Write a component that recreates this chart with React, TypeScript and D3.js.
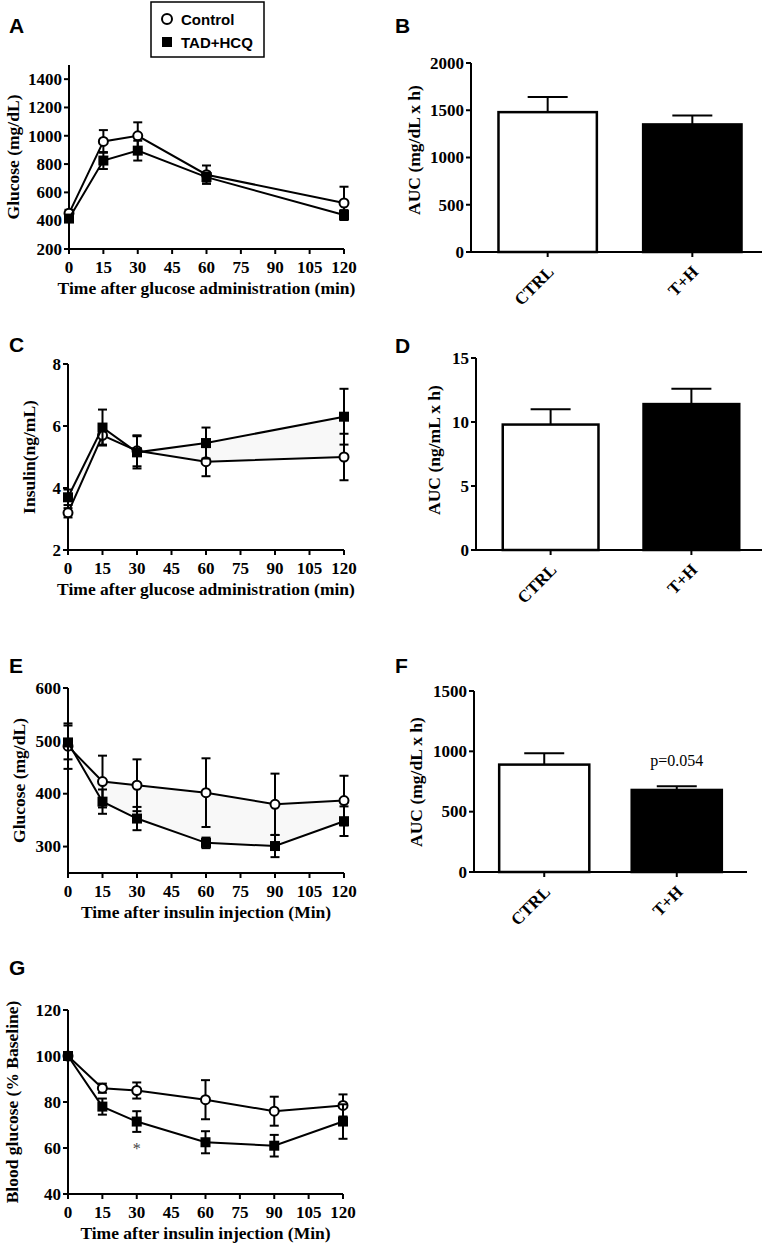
import React from "react";
import * as d3 from "d3";

// ---------- DATA ----------
const ogttTimes = [0, 15, 30, 60, 120];
const ogttGlucoseCtrl = [452, 960, 1000, 725, 525];
const ogttGlucoseCtrlErr = [25, 80, 95, 65, 115];
const ogttGlucoseTad = [415, 825, 895, 708, 440];
const ogttGlucoseTadErr = [20, 60, 70, 32, 35];

const insulinCtrl = [3.2, 5.7, 5.2, 4.85, 5.0];
const insulinCtrlErr = [0.15, 0.3, 0.5, 0.47, 0.75];
const insulinTad = [3.7, 5.95, 5.15, 5.45, 6.3];
const insulinTadErr = [0.25, 0.58, 0.52, 0.5, 0.9];

const ittTimes = [0, 15, 30, 60, 90, 120];
const ittGlucoseCtrl = [490, 423, 416, 402, 380, 387];
const ittGlucoseCtrlErr = [43, 49, 49, 65, 58, 47];
const ittGlucoseTad = [497, 385, 353, 307, 301, 348];
const ittGlucoseTadErr = [32, 23, 22, 10, 21, 28];

const pctCtrl = [100, 86, 85, 81, 76, 78.5];
const pctCtrlErr = [0.5, 2, 3.5, 8.5, 6.3, 4.8];
const pctTad = [100, 78, 71.5, 62.5, 61, 71.5];
const pctTadErr = [0.5, 3.5, 4.5, 4.8, 4.7, 7.5];

const groups = ["CTRL", "T+H"];
const ogttAuc = [1480, 1350];
const ogttAucErr = [160, 95];
const insulinAuc = [9.8, 11.4];
const insulinAucErr = [1.2, 1.2];
const ittAuc = [890, 680];
const ittAucErr = [95, 30];

const timeTicks = [0, 15, 30, 45, 60, 75, 90, 105, 120];
const legendLabels = ["Control", "TAD+HCQ"];

const SERIF = "'Liberation Serif', 'Times New Roman', serif";
const SANS = "'Liberation Sans', Arial, sans-serif";
const TICK_FS = 17;
const TITLE_FS = 17.5;

type LineProps = {
  xRange: [number, number];
  yRange: [number, number];
  yDomain: [number, number];
  yTicks: number[];
  times: number[];
  ctrl: number[];
  ctrlErr: number[];
  tad: number[];
  tadErr: number[];
  yTitle: string;
  yTitleX: number;
  xTitle: string;
  shade?: boolean;
  children?: (x: any, y: any) => React.ReactNode;
};

function LinePanel(p: LineProps) {
  const x = d3.scaleLinear().domain([0, 120]).range(p.xRange);
  const y = d3.scaleLinear().domain(p.yDomain).range(p.yRange);
  const axisY = p.yRange[0];
  const axisX = p.xRange[0];
  const line = d3
    .line<number>()
    .x((_, i) => x(p.times[i]))
    .y((d) => y(d));
  const area = d3
    .area<number>()
    .x((_, i) => x(p.times[i]))
    .y0((d) => y(d))
    .y1((_, i) => y(p.tad[i]));
  const cap = 4.5;
  const errBars = (vals: number[], errs: number[]) =>
    vals.map((v, i) => {
      const cx = x(p.times[i]);
      const y1 = y(v + errs[i]);
      const y2 = y(v - errs[i]);
      return (
        <g key={i} stroke="#000" strokeWidth={2}>
          <line x1={cx} x2={cx} y1={y1} y2={y2} />
          <line x1={cx - cap} x2={cx + cap} y1={y1} y2={y1} />
          <line x1={cx - cap} x2={cx + cap} y1={y2} y2={y2} />
        </g>
      );
    });
  const midY = (p.yRange[0] + p.yRange[1]) / 2;
  const midX = (p.xRange[0] + p.xRange[1]) / 2;
  return (
    <g>
      {p.shade && <path d={area(p.ctrl) || ""} fill="#f8f8f8" stroke="none" />}
      <line x1={axisX} x2={axisX} y1={axisY} y2={p.yRange[1]} stroke="#000" strokeWidth={2} />
      <line x1={axisX} x2={p.xRange[1]} y1={axisY} y2={axisY} stroke="#000" strokeWidth={2} />
      {p.yTicks.map((t) => (
        <g key={"y" + t}>
          <line x1={axisX - 5} x2={axisX} y1={y(t)} y2={y(t)} stroke="#000" strokeWidth={2} />
          <text
            x={axisX - 7}
            y={y(t)}
            dy="0.34em"
            textAnchor="end"
            fontFamily={SERIF}
            fontWeight="bold"
            fontSize={TICK_FS}
          >
            {t}
          </text>
        </g>
      ))}
      {timeTicks.map((t) => (
        <g key={"x" + t}>
          <line x1={x(t)} x2={x(t)} y1={axisY} y2={axisY + 5} stroke="#000" strokeWidth={2} />
          <text
            x={x(t)}
            y={axisY + 24}
            textAnchor="middle"
            fontFamily={SERIF}
            fontWeight="bold"
            fontSize={TICK_FS}
          >
            {t}
          </text>
        </g>
      ))}
      <text
        x={midX}
        y={axisY + 45}
        textAnchor="middle"
        fontFamily={SERIF}
        fontWeight="bold"
        fontSize={TITLE_FS}
      >
        {p.xTitle}
      </text>
      <text
        transform={`translate(${p.yTitleX},${midY}) rotate(-90)`}
        textAnchor="middle"
        dy="0.35em"
        fontFamily={SERIF}
        fontWeight="bold"
        fontSize={TITLE_FS}
      >
        {p.yTitle}
      </text>
      {errBars(p.ctrl, p.ctrlErr)}
      <path d={line(p.ctrl) || ""} fill="none" stroke="#000" strokeWidth={2} />
      {p.ctrl.map((v, i) => (
        <circle key={"c" + i} cx={x(p.times[i])} cy={y(v)} r={4.5} fill="#fff" stroke="#000" strokeWidth={2} />
      ))}
      {errBars(p.tad, p.tadErr)}
      <path d={line(p.tad) || ""} fill="none" stroke="#000" strokeWidth={2} />
      {p.tad.map((v, i) => (
        <rect key={"s" + i} x={x(p.times[i]) - 5} y={y(v) - 5} width={10} height={10} fill="#000" />
      ))}
      {p.children && p.children(x, y)}
    </g>
  );
}

type BarProps = {
  axisX: number;
  axisEnd: number;
  bandRange: [number, number];
  yRange: [number, number];
  yDomain: [number, number];
  yTicks: number[];
  values: number[];
  errs: number[];
  yTitle: string;
  yTitleX: number;
  yTitleY: number;
  note?: string;
};

function BarPanel(p: BarProps) {
  const x = d3.scaleBand<string>().domain(groups).range(p.bandRange).paddingInner(0.32).paddingOuter(0.19);
  const y = d3.scaleLinear().domain(p.yDomain).range(p.yRange);
  const axisY = p.yRange[0];
  const bw = x.bandwidth();
  const cap = 20;
  return (
    <g>
      {groups.map((g, i) => {
        const x0 = x(g) as number;
        const cx = x0 + bw / 2;
        const top = y(p.values[i]);
        const et = y(p.values[i] + p.errs[i]);
        return (
          <g key={g}>
            <line x1={cx} x2={cx} y1={top} y2={et} stroke="#000" strokeWidth={2} />
            <line x1={cx - cap} x2={cx + cap} y1={et} y2={et} stroke="#000" strokeWidth={2} />
            <rect
              x={x0}
              y={top}
              width={bw}
              height={axisY - top}
              fill={i === 0 ? "#fff" : "#000"}
              stroke="#000"
              strokeWidth={2.5}
            />
            {i === 1 && p.note && (
              <text x={cx} y={et - 20} textAnchor="middle" fontFamily={SERIF} fontSize={16}>
                {p.note}
              </text>
            )}
          </g>
        );
      })}
      <line x1={p.axisX} x2={p.axisX} y1={axisY} y2={p.yRange[1]} stroke="#000" strokeWidth={2} />
      <line x1={p.axisX} x2={p.axisEnd} y1={axisY} y2={axisY} stroke="#000" strokeWidth={2} />
      {p.yTicks.map((t) => (
        <g key={t}>
          <line x1={p.axisX - 5} x2={p.axisX} y1={y(t)} y2={y(t)} stroke="#000" strokeWidth={2} />
          <text
            x={p.axisX - 7}
            y={y(t)}
            dy="0.34em"
            textAnchor="end"
            fontFamily={SERIF}
            fontWeight="bold"
            fontSize={TICK_FS}
          >
            {t}
          </text>
        </g>
      ))}
      {groups.map((g) => {
        const cx = (x(g) as number) + bw / 2;
        return (
          <g key={"l" + g}>
            <line x1={cx} x2={cx} y1={axisY} y2={axisY + 5} stroke="#000" strokeWidth={2} />
            <text
              transform={`translate(${cx + 7},${axisY + 21}) rotate(-45)`}
              textAnchor="end"
              fontFamily={SERIF}
              fontWeight="bold"
              fontSize={TICK_FS}
            >
              {g}
            </text>
          </g>
        );
      })}
      <text
        transform={`translate(${p.yTitleX},${p.yTitleY}) rotate(-90)`}
        textAnchor="middle"
        dy="0.35em"
        fontFamily={SERIF}
        fontWeight="bold"
        fontSize={TITLE_FS}
      >
        {p.yTitle}
      </text>
    </g>
  );
}

function PanelLabel({ x, y, t }: { x: number; y: number; t: string }) {
  return (
    <text x={x} y={y} fontFamily={SANS} fontWeight="bold" fontSize={21}>
      {t}
    </text>
  );
}

export default function App() {
  return (
    <svg
      width={768}
      height={1246}
      style={{ position: "absolute", left: 0, top: 0, background: "#fff" }}
    >
      <rect width={768} height={1246} fill="#fff" />
      <g>
        <rect x={151} y={2} width={113} height={55} fill="#fff" stroke="#000" strokeWidth={1.5} />
        <circle cx={167} cy={19} r={5} fill="#fff" stroke="#000" strokeWidth={2} />
        <rect x={162} y={37} width={10} height={10} fill="#000" />
        <text x={181} y={25} fontFamily={SANS} fontWeight="bold" fontSize={15}>
          {legendLabels[0]}
        </text>
        <text x={181} y={48} fontFamily={SANS} fontWeight="bold" fontSize={15}>
          {legendLabels[1]}
        </text>
      </g>

      <PanelLabel x={9} y={33} t="A" />
      <PanelLabel x={395} y={33} t="B" />
      <PanelLabel x={9} y={352} t="C" />
      <PanelLabel x={395} y={353} t="D" />
      <PanelLabel x={9} y={673} t="E" />
      <PanelLabel x={395} y={673} t="F" />
      <PanelLabel x={9} y={975} t="G" />

      <LinePanel
        xRange={[69, 344]}
        yRange={[249, 65]}
        yDomain={[200, 1500]}
        yTicks={[200, 400, 600, 800, 1000, 1200, 1400]}
        times={ogttTimes}
        ctrl={ogttGlucoseCtrl}
        ctrlErr={ogttGlucoseCtrlErr}
        tad={ogttGlucoseTad}
        tadErr={ogttGlucoseTadErr}
        yTitle="Glucose (mg/dL)"
        yTitleX={13}
        xTitle="Time after glucose administration (min)"
      />
      <BarPanel
        axisX={471}
        axisEnd={762}
        bandRange={[471, 769]}
        yRange={[252, 63]}
        yDomain={[0, 2000]}
        yTicks={[0, 500, 1000, 1500, 2000]}
        values={ogttAuc}
        errs={ogttAucErr}
        yTitle="AUC (mg/dL x h)"
        yTitleX={414}
        yTitleY={150}
      />

      <LinePanel
        xRange={[68, 344]}
        yRange={[550, 364]}
        yDomain={[2, 8]}
        yTicks={[2, 4, 6, 8]}
        times={ogttTimes}
        ctrl={insulinCtrl}
        ctrlErr={insulinCtrlErr}
        tad={insulinTad}
        tadErr={insulinTadErr}
        yTitle="Insulin(ng/mL)"
        yTitleX={29}
        xTitle="Time after glucose administration (min)"
        shade
      />
      <BarPanel
        axisX={476}
        axisEnd={762}
        bandRange={[476, 766]}
        yRange={[550, 358]}
        yDomain={[0, 15]}
        yTicks={[0, 5, 10, 15]}
        values={insulinAuc}
        errs={insulinAucErr}
        yTitle="AUC (ng/mL x h)"
        yTitleX={434}
        yTitleY={450}
      />

      <LinePanel
        xRange={[68, 344]}
        yRange={[873, 688]}
        yDomain={[250, 600]}
        yTicks={[300, 400, 500, 600]}
        times={ittTimes}
        ctrl={ittGlucoseCtrl}
        ctrlErr={ittGlucoseCtrlErr}
        tad={ittGlucoseTad}
        tadErr={ittGlucoseTadErr}
        yTitle="Glucose (mg/dL)"
        yTitleX={19}
        xTitle="Time after insulin injection (Min)"
        shade
      />
      <BarPanel
        axisX={474}
        axisEnd={747}
        bandRange={[474, 747]}
        yRange={[872, 691]}
        yDomain={[0, 1500]}
        yTicks={[0, 500, 1000, 1500]}
        values={ittAuc}
        errs={ittAucErr}
        yTitle="AUC (mg/dL x h)"
        yTitleX={416}
        yTitleY={782}
        note="p=0.054"
      />

      <LinePanel
        xRange={[68, 343]}
        yRange={[1194, 1010]}
        yDomain={[40, 120]}
        yTicks={[40, 60, 80, 100, 120]}
        times={ittTimes}
        ctrl={pctCtrl}
        ctrlErr={pctCtrlErr}
        tad={pctTad}
        tadErr={pctTadErr}
        yTitle="Blood glucose (% Baseline)"
        yTitleX={12}
        xTitle="Time after insulin injection (Min)"
      >
        {(x, y) => (
          <text x={x(30)} y={y(57.5)} textAnchor="middle" fontFamily={SERIF} fontSize={16} fill="#444">
            *
          </text>
        )}
      </LinePanel>
    </svg>
  );
}
